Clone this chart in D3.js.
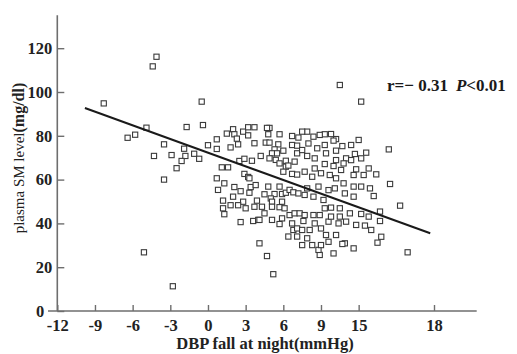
<!DOCTYPE html>
<html>
<head>
<meta charset="utf-8">
<script src="https://cdn.jsdelivr.net/npm/d3@7"></script>
<style>
  body { margin: 0; background: #fff; }
  text { font-family: "Liberation Serif", "Times New Roman", serif; }
</style>
</head>
<body>
<div id="chart"></div>
<script>
// values
const xTicks = [-12, -9, -6, -3, 0, 3, 6, 9, 12, 18];
const xTickLabels = ["-12", "-9", "-6", "-3", "0", "3", "6", "9", "15", "18"]; // "15" as printed
const yTicks = [0, 20, 40, 60, 80, 100, 120];

// DBP fall at night (mmHg)
const dbpFall = [
  -8.3, -4.1, -4.4, -0.5, -4.9, -6.4, -5.8, -1.7, -0.4, -3.5, -4.3, -2.9, -1.9, -1.8, -1.1, -0.7, -2.1, -2.5,
  0.0, 0.7, 0.7, 1.5, 2.0, 2.1, 2.3, 2.4, 1.8, 2.8, 3.2, 3.2, 3.7, 3.7, 1.1, 1.6, 2.5, 2.9, 3.5, 2.9, 3.2, 0.7, -3.5,
  -5.1, -2.8, 1.3, 0.8, 2.1, 2.6, 3.3, 3.4, 3.8, 3.3, 2.0, 1.2, 2.8, 2.4, 1.8, 3.0, 3.7, 3.9, 1.2, 1.3, 2.6, 3.6, 4.0, 4.1,
  4.9, 4.7, 4.8, 5.7, 6.7, 7.2, 4.6, 4.9, 5.6, 5.3, 5.1, 4.2, 4.9, 5.4, 6.0, 5.5, 6.2, 5.7, 6.7, 7.1, 7.1, 6.9,
  6.2, 6.4, 6.0, 6.7, 7.1, 4.8, 5.7, 5.3, 5.0, 4.5, 5.1, 5.9, 5.9, 6.2, 6.5, 6.8, 7.2, 4.3, 5.1, 5.7, 6.1, 4.5,
  4.1, 5.1, 5.9, 5.7, 6.5, 6.9, 7.3, 6.7, 6.8, 7.1, 6.4, 7.1, 4.7, 5.2,
  10.5, 12.2, 14.4, 14.5, 15.3, 15.9, 13.7, 13.7, 13.5, 13.8, 13.4, 13.2, 12.8, 12.9, 12.0, 11.4, 10.7, 12.6,
  12.2, 11.7, 11.0, 10.2, 10.2, 9.8, 9.3, 8.9, 8.4, 7.9, 7.5, 10.0, 9.3, 8.7, 8.0, 7.5, 7.9, 8.5, 9.4, 10.2,
  10.8, 11.4, 11.8, 12.4, 11.6, 10.6, 10.0, 9.3, 8.5, 7.7, 8.3, 9.0, 9.7, 10.2, 10.8, 11.6, 12.2, 11.6, 10.9,
  10.1, 9.6, 8.8, 7.9, 7.7, 8.4, 9.2, 9.8, 9.3, 10.5, 11.3, 12.2, 12.8, 13.0, 12.5, 11.8, 11.0, 10.4, 9.6,
  8.9, 8.4, 7.7, 7.6, 8.5, 9.0, 8.1, 7.5, 9.4, 10.2, 10.9, 10.7, 11.6, 10.0, 8.9, 8.8, 9.0, 8.3, 9.6, 7.5, 7.9,
  10.5, 9.8
];
// plasma SM level (mg/dl)
const smLevel = [
  94.8, 116.1, 111.7, 95.6, 83.7, 79.1, 80.5, 84.0, 84.9, 76.1, 70.8, 71.2, 74.1, 70.8, 71.8, 69.5, 68.5, 65.2,
  75.7, 78.4, 74.0, 81.0, 83.0, 80.7, 78.7, 76.1, 74.7, 81.9, 83.9, 80.2, 83.9, 76.6, 65.6, 65.6, 68.5, 69.5, 68.6, 62.6, 61.2, 60.6, 60.0,
  26.8, 11.3, 58.3, 55.3, 56.6, 54.7, 54.0, 56.6, 57.5, 60.6, 52.2, 50.4, 49.9, 48.3, 48.3, 46.9, 47.6, 50.4, 46.9, 44.2, 40.6, 41.1, 41.6, 30.9,
  83.6, 83.6, 80.7, 80.7, 79.9, 79.2, 76.9, 76.9, 76.1, 73.8, 72.0, 70.8, 69.7, 69.0, 73.2, 72.0, 68.6, 67.4, 75.8, 75.5, 72.0, 68.2,
  65.9, 66.4, 63.6, 62.6, 62.3, 56.8, 56.8, 53.4, 51.4, 53.3, 49.9, 49.9, 53.4, 54.0, 55.3, 54.2, 53.7, 47.6, 47.6, 47.4, 46.9, 44.6,
  41.6, 41.6, 42.3, 39.7, 43.8, 44.6, 44.6, 40.0, 37.0, 37.7, 34.0, 34.0, 25.1, 16.8,
  103.2, 95.6, 73.8, 58.0, 48.1, 26.8, 45.4, 41.1, 31.2, 33.9, 62.4, 52.5, 65.1, 56.0, 78.1, 75.8, 75.3, 72.3,
  69.7, 71.7, 69.7, 73.2, 78.5, 80.8, 80.7, 80.4, 79.6, 81.9, 81.9, 77.8, 75.8, 74.3, 76.5, 73.5, 70.8, 69.7, 72.0, 68.9,
  67.4, 68.9, 64.7, 62.1, 62.1, 64.4, 66.2, 67.1, 65.1, 63.6, 61.3, 62.9, 62.1, 60.6, 58.3, 56.8, 56.8, 52.2, 53.7,
  56.0, 55.2, 56.8, 56.0, 53.0, 52.2, 50.7, 47.2, 46.9, 46.9, 44.6, 44.3, 43.1, 37.0, 39.0, 39.3, 40.8, 40.0, 40.8,
  43.8, 43.8, 43.8, 41.1, 40.0, 37.7, 37.0, 37.0, 34.7, 34.7, 30.9, 30.6, 28.6, 26.3, 25.6, 27.9, 30.1, 30.1, 31.6, 30.1, 33.2,
  43.1, 43.1
];

// regression line as drawn
const fitIntercept = 72.3;
const fitSlope = -2.08;
const fitRange = [-9.8, 17.7];

const width = 517, height = 354;

const svg = d3.select("#chart").append("svg")
  .attr("width", width)
  .attr("height", height);

const x = d3.scaleLinear().domain([-12, 18]).range([57.3, 434]);
const y = d3.scaleLinear().domain([0, 120]).range([311, 48.2]);

const axisColor = "#6e6e6e";

// axis lines (run past the tick range like the original)
svg.append("line")
  .attr("x1", x(-12.74)).attr("x2", x(21.4))
  .attr("y1", y(0)).attr("y2", y(0))
  .attr("stroke", axisColor).attr("stroke-width", 1.6);
svg.append("line")
  .attr("x1", x(-12)).attr("x2", x(-12))
  .attr("y1", y(0)).attr("y2", y(135))
  .attr("stroke", axisColor).attr("stroke-width", 1.6);

const xAxis = svg.append("g")
  .attr("transform", `translate(0,${y(0)})`)
  .call(d3.axisBottom(x)
    .tickValues(xTicks)
    .tickFormat((d, i) => xTickLabels[i])
    .tickSize(-6)
    .tickPadding(8));

const yAxis = svg.append("g")
  .attr("transform", `translate(${x(-12)},0)`)
  .call(d3.axisLeft(y)
    .tickValues(yTicks)
    .tickSize(-7)
    .tickPadding(5));

[xAxis, yAxis].forEach(g => {
  g.select(".domain").remove();
  g.selectAll(".tick line").attr("stroke", axisColor).attr("stroke-width", 1.4);
  g.selectAll(".tick text")
    .attr("fill", "#222")
    .style("font-family", "'Liberation Serif', serif")
    .style("font-weight", "bold")
    .style("font-size", "16.5px");
});
// the "0" on the y axis sits left of where the x axis line starts
yAxis.selectAll(".tick text").filter(d => d === 0).attr("x", -13);

// points
const pts = dbpFall.map((d, i) => ({ x: d, y: smLevel[i] }));
svg.append("g")
  .selectAll("rect")
  .data(pts)
  .enter()
  .append("rect")
  .attr("x", d => x(d.x) - 2.6)
  .attr("y", d => y(d.y) - 2.6)
  .attr("width", 5.2)
  .attr("height", 5.2)
  .attr("fill", "#fff")
  .attr("stroke", "#3a3a3a")
  .attr("stroke-width", 1.1);

// regression line
svg.append("line")
  .attr("x1", x(fitRange[0]))
  .attr("y1", y(fitIntercept + fitSlope * fitRange[0]))
  .attr("x2", x(fitRange[1]))
  .attr("y2", y(fitIntercept + fitSlope * fitRange[1]))
  .attr("stroke", "#1a1a1a")
  .attr("stroke-width", 2);

// annotation
const note = svg.append("text")
  .attr("x", 387).attr("y", 91)
  .attr("fill", "#1a1a1a")
  .style("font-size", "17px")
  .style("font-weight", "bold");
note.append("tspan").text("r=\u2212 0.31");
note.append("tspan").attr("dx", 8).style("font-style", "italic").text("P");
note.append("tspan").text("<0.01");

// axis titles
svg.append("text")
  .attr("x", 265).attr("y", 349)
  .attr("text-anchor", "middle")
  .attr("fill", "#222")
  .style("font-size", "16.5px")
  .style("font-weight", "bold")
  .text("DBP fall at night(mmHg)");

const yl = svg.append("text")
  .attr("transform", "translate(24,158) rotate(-90)")
  .attr("text-anchor", "middle")
  .attr("fill", "#222")
  .style("font-size", "15px");
yl.append("tspan").text("plasma SM level");
yl.append("tspan").style("font-weight", "bold").style("font-size", "16px").text("(mg/dl)");
</script>
</body>
</html>
